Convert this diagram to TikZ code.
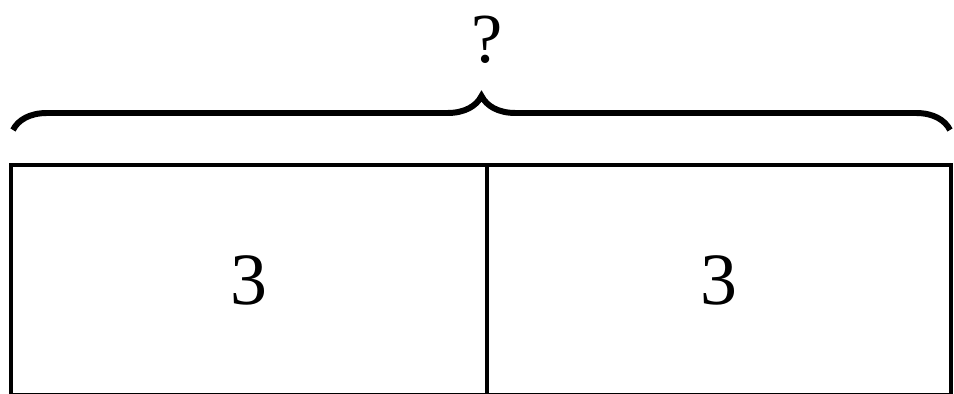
\documentclass[tikz,border=0pt]{standalone}
\usepackage{fontspec}
\setmainfont{Liberation Serif}
\usetikzlibrary{positioning,decorations.pathreplacing}

\begin{document}
\begin{tikzpicture}[
  x=.02cm,y=-.02cm,
  cell/.style={draw,line width=2.1pt,inner sep=0pt,font=\fontsize{42}{48}\selectfont},
  brc/.style={decorate,decoration={brace,amplitude=.68cm,aspect=.5},line width=3.4pt},
  lab/.style={font=\fontsize{40}{48}\selectfont}
]
  \useasboundingbox (0,0) rectangle (954,394);
  % two equal parts of the tape
  \node[cell,minimum width=9.52cm,minimum height=4.6cm] (partA) at (249,280) {3};
  \node[cell,minimum width=9.28cm,minimum height=4.6cm] (partB) at (719,280) {3};
  % brace over the whole tape
  \coordinate (braceL) at (13,130);
  \coordinate (braceR) at (950,130);
  \draw[brc] (braceL) -- (braceR);
  \node[lab] (total) at (487,40) {?};
\end{tikzpicture}
\end{document}
